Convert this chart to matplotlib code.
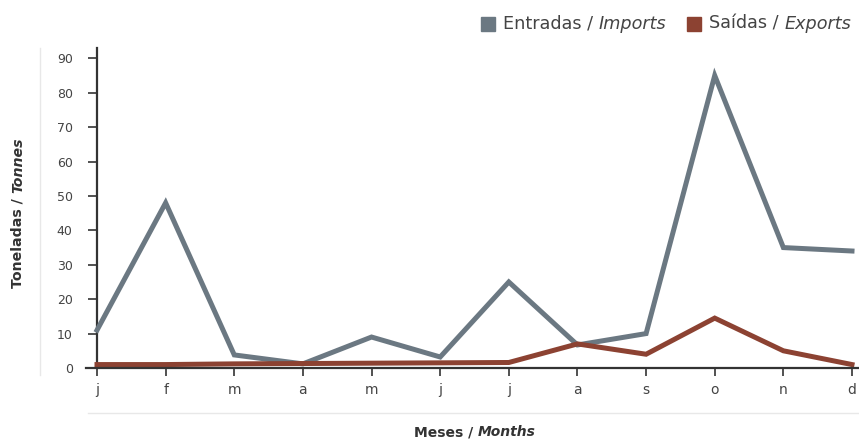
import matplotlib.pyplot as plt
from matplotlib.lines import Line2D

months = ['j', 'f', 'm', 'a', 'm', 'j', 'j', 'a', 's', 'o', 'n', 'd']
imports = [11, 48, 3.8, 1.2, 9, 3.2, 25, 6.7, 10, 85, 35, 34]
exports = [1.0, 1.0, 1.2, 1.3, 1.4, 1.5, 1.6, 7, 4, 14.5, 5, 1.0]
yticks = [0, 10, 20, 30, 40, 50, 60, 70, 80, 90]

c_imp = '#6b7882'
c_exp = '#8c4232'
txt = '#444444'
dark = '#333333'
plt.rcParams['font.family'] = ['DejaVu Sans']

fig = plt.figure(figsize=(8.59, 4.4), dpi=100)
W, H = 859, 440
ax = fig.add_axes([97 / W, (H - 368) / H, (852 - 97) / W, 320 / H])

x = list(range(len(months)))
ax.plot(x, imports, color=c_imp, lw=3.6, solid_joinstyle='miter', clip_on=False, zorder=3)
ax.plot(x, exports, color=c_exp, lw=3.6, solid_joinstyle='miter', clip_on=False, zorder=4)

ax.set_xlim(0, 11)
ax.set_ylim(0, 93)
ax.set_yticks(yticks)
ax.set_xticks(x)
ax.set_xticklabels(months)
for s in ['top', 'right', 'bottom']:
    ax.spines[s].set_visible(False)
ax.spines['left'].set_color(dark)
ax.spines['left'].set_linewidth(1.6)
ax.tick_params(axis='y', length=6.5, width=1.2, color=dark, pad=11, labelsize=9, labelcolor=txt)
ax.tick_params(axis='x', length=6, width=1.2, color=dark, pad=5, labelsize=10, labelcolor=txt)

# bottom axis line extends past the y axis
fig.add_artist(Line2D([86 / W, 1.0], [(H - 368) / H] * 2, color=dark, lw=1.6))
# light separators
fig.add_artist(Line2D([40 / W, 40 / W], [(H - 48) / H, (H - 375) / H], color='#e8e8e8', lw=1))
fig.add_artist(Line2D([88 / W, 1.0], [(H - 413) / H] * 2, color='#e8e8e8', lw=1))

# axis titles (bold + bold italic)
t1 = fig.text(18 / W, (H - 288) / H, 'Toneladas / ', rotation=90, fontsize=10.2,
              fontweight='bold', color=dark, ha='center', va='bottom')
ax.annotate('Tonnes', xy=(0.5, 1), xycoords=t1, rotation=90, fontsize=10.2,
            fontweight='bold', style='italic', color=dark, ha='center', va='bottom')
t2 = fig.text(478 / W, (H - 432) / H, 'Meses / ', fontsize=10, fontweight='bold',
              color=dark, ha='right', va='center')
ax.annotate('Months', xy=(1, 0), xycoords=t2, fontsize=10, fontweight='bold',
            style='italic', color=dark, ha='left', va='bottom')

# legend
ly = (H - 24) / H
for sx, col, a, b in [(481, c_imp, 'Entradas / ', 'Imports'), (687, c_exp, 'Saídas / ', 'Exports')]:
    fig.patches.append(plt.Rectangle((sx / W, (H - 31) / H), 14 / W, 14 / H,
                                     color=col, transform=fig.transFigure, figure=fig))
    la = fig.text((sx + 22) / W, ly, a, fontsize=12.7, color=txt, ha='left', va='center')
    ax.annotate(b, xy=(1, 0), xycoords=la, fontsize=12.7, style='italic', color=txt,
                ha='left', va='bottom')

fig.savefig('out.png', dpi=100)
